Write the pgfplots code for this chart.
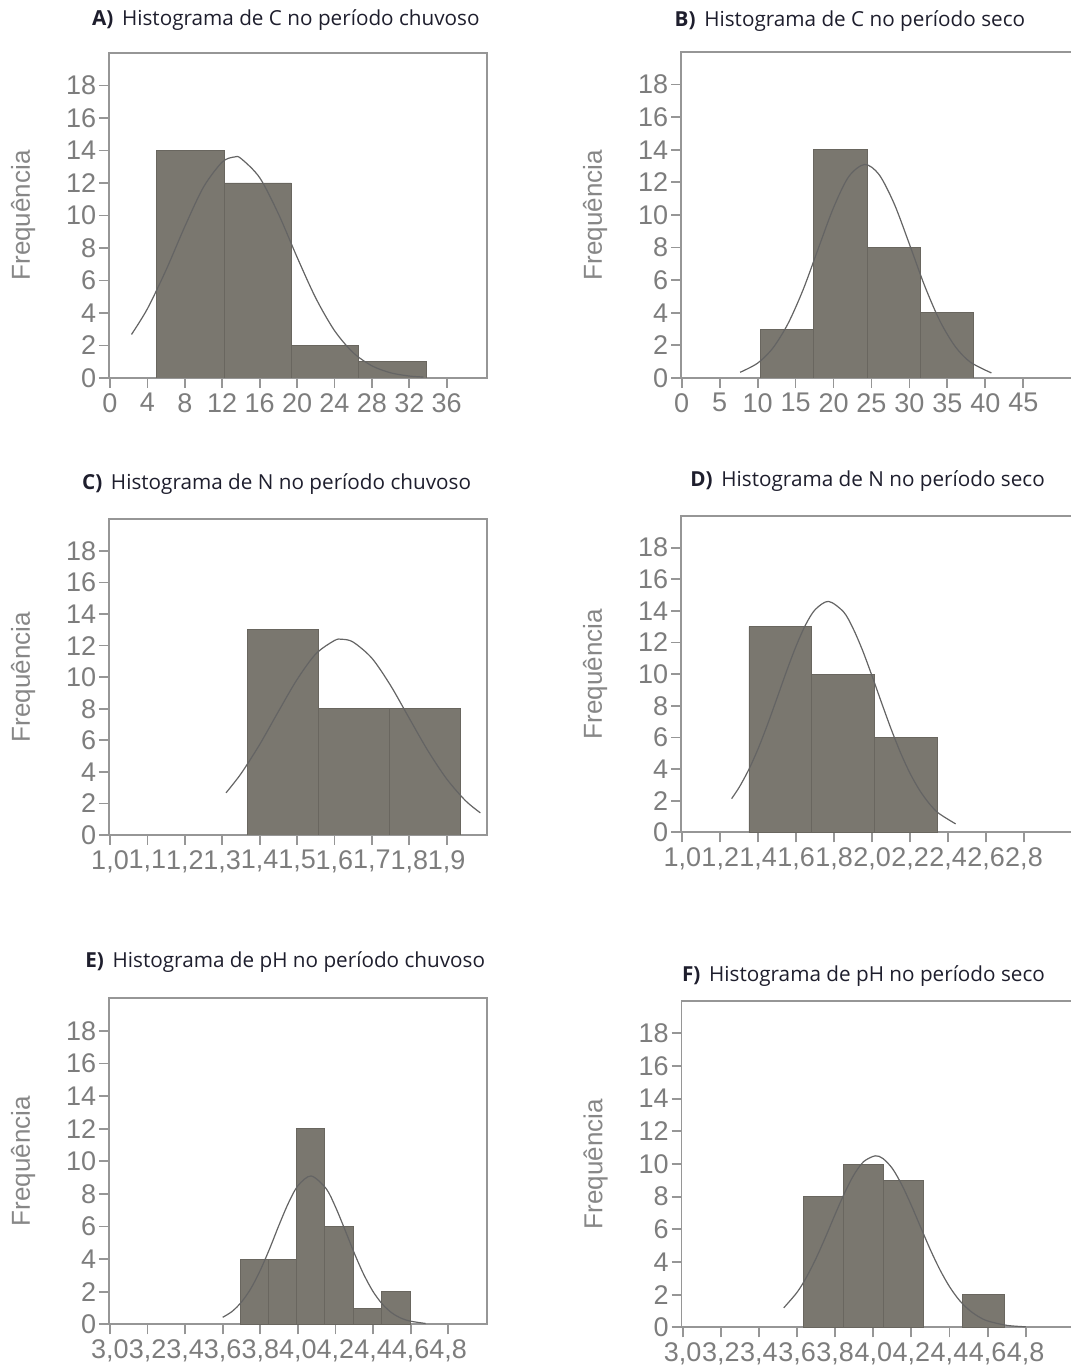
\documentclass[border=0pt]{standalone}
\usepackage{pgfplots}
\pgfplotsset{compat=1.18}
\usepackage{fontspec}
\setmainfont{Liberation Sans}
\newfontfamily\titlefont{Open Sans}
\definecolor{barc}{RGB}{122,119,111}
\definecolor{bard}{RGB}{105,102,95}
\definecolor{framec}{RGB}{150,150,150}
\definecolor{tickc}{RGB}{125,125,125}
\definecolor{labc}{RGB}{135,135,135}
\definecolor{curvec}{RGB}{100,100,100}
\definecolor{titc}{RGB}{30,30,45}
\pgfplotsset{
  hist/.style={
    scale only axis, anchor=south west,
    ymin=0, ymax=20, ytick={0,2,4,6,8,10,12,14,16,18},
    axis line style={framec, line width=0.9pt},
    every tick/.style={framec, line width=0.9pt},
    major tick length=5pt,
    tick align=outside,
    xtick pos=left, ytick pos=left,
    tick label style={font=\fontsize{13.5pt}{13.5pt}\selectfont, text=tickc},
    yticklabel style={inner sep=1.2pt},
    xticklabel style={inner sep=2.5pt},
    /pgf/number format/assume math mode=true,
    ylabel={Frequência},
    every axis y label/.style={at={(axis description cs:0,0.5)}, xshift=-43pt, rotate=90, anchor=center, font=\fontsize{13pt}{13pt}\selectfont, text=labc},
    clip=true,
  },
  barstyle/.style={ybar interval, fill=barc, draw=bard, line width=0.4pt},
  curvestyle/.style={smooth, curvec, line width=0.6pt, mark=none},
}
\newcommand{\ttl}[2]{{\titlefont\fontsize{10.35pt}{12pt}\selectfont\color{titc}\textbf{#1}\hspace{0.42em}#2}}
\begin{document}
\begin{tikzpicture}
\path[use as bounding box] (0,0) rectangle (535.5pt,683pt);
\clip (0,0) rectangle (535.5pt,683pt);

% A
\begin{axis}[hist, at={(54.5pt,494pt)}, width=189pt, height=162.5pt,
  xmin=-0.107, xmax=40.31, xtick={0,4,8,12,16,20,24,28,32,36}]
\addplot[barstyle] coordinates {(5,14) (12.2,12) (19.4,2) (26.6,1) (33.8,0)};
\addplot[curvestyle] coordinates {(2.3,2.68) (4,4.26) (6,6.65) (8,9.32) (10,11.75) (12,13.29) (13.3,13.6) (14,13.51) (16,12.33) (18,10.11) (20,7.44) (22,4.92) (24,2.92) (26,1.56) (28,0.75) (30,0.32) (32,0.12) (33.5,0.06)};
\end{axis}
\node[anchor=base west, inner sep=0] at (45.85pt,670.15pt) {\ttl{A)}{Histograma de C no período chuvoso}};

% B
\begin{axis}[hist, at={(340.5pt,494pt)}, width=200pt, height=163pt,
  xmin=-0.09, xmax=52.6, xtick={0,5,10,15,20,25,30,35,40,45}]
\addplot[barstyle] coordinates {(10.4,3) (17.4,14) (24.4,8) (31.4,4) (38.4,0)};
\addplot[curvestyle] coordinates {(7.7,0.35) (10,0.91) (12,1.83) (14,3.33) (16,5.42) (18,7.95) (20,10.45) (22,12.35) (24.1,13.1) (26,12.48) (28,10.68) (30,8.21) (32,5.66) (34,3.51) (36,1.95) (38,0.98) (40.8,0.31)};
\end{axis}
\node[anchor=base west, inner sep=0] at (337.15pt,669.65pt) {\ttl{B)}{Histograma de C no período seco}};

% C
\begin{axis}[hist, at={(54.5pt,265.5pt)}, width=189pt, height=157.85pt,
  xmin=0.9973, xmax=2.0077, xtick={1.0,1.1,1.2,1.3,1.4,1.5,1.6,1.7,1.8,1.9},
  xticklabels={{1,0},{1,1},{1,2},{1,3},{1,4},{1,5},{1,6},{1,7},{1,8},{1,9}}]
\addplot[barstyle] coordinates {(1.367,13) (1.557,8) (1.747,8) (1.937,0)};
\addplot[curvestyle] coordinates {(1.31,2.67) (1.35,3.88) (1.40,5.73) (1.45,7.82) (1.50,9.85) (1.55,11.47) (1.60,12.32) (1.62,12.4) (1.65,12.22) (1.70,11.20) (1.75,9.47) (1.80,7.39) (1.85,5.33) (1.90,3.55) (1.95,2.18) (1.99,1.40)};
\end{axis}
\node[anchor=base west, inner sep=0] at (40.85pt,438.35pt) {\ttl{C)}{Histograma de N no período chuvoso}};

% D
\begin{axis}[hist, at={(340.5pt,266.85pt)}, width=200pt, height=158.15pt,
  xmin=0.9932, xmax=3.1003, xtick={1.0,1.2,1.4,1.6,1.8,2.0,2.2,2.4,2.6,2.8},
  xticklabels={{1,0},{1,2},{1,4},{1,6},{1,8},{2,0},{2,2},{2,4},{2,6},{2,8}}]
\addplot[barstyle] coordinates {(1.351,13) (1.678,10) (2.010,6) (2.343,0)};
\addplot[curvestyle] coordinates {(1.26,2.13) (1.30,2.85) (1.35,3.96) (1.40,5.30) (1.45,6.85) (1.50,8.52) (1.55,10.21) (1.60,11.79) (1.65,13.13) (1.70,14.08) (1.77,14.6) (1.85,13.93) (1.90,12.88) (1.95,11.49) (2.00,9.87) (2.05,8.18) (2.10,6.53) (2.15,5.02) (2.20,3.72) (2.25,2.66) (2.30,1.83) (2.35,1.21) (2.44,0.53)};
\end{axis}
\node[anchor=base west, inner sep=0] at (345pt,439.65pt) {\ttl{D)}{Histograma de N no período seco}};

% E
\begin{axis}[hist, at={(54.5pt,20.85pt)}, width=189pt, height=163pt,
  xmin=2.9947, xmax=5.0064, xtick={3.0,3.2,3.4,3.6,3.8,4.0,4.2,4.4,4.6,4.8},
  xticklabels={{3,0},{3,2},{3,4},{3,6},{3,8},{4,0},{4,2},{4,4},{4,6},{4,8}}]
\addplot[barstyle] coordinates {(3.695,4) (3.845,4) (3.99,12) (4.142,6) (4.294,1) (4.445,2) (4.60,0)};
\addplot[curvestyle] coordinates {(3.60,0.43) (3.65,0.79) (3.70,1.37) (3.75,2.20) (3.80,3.32) (3.85,4.65) (3.90,6.10) (3.95,7.45) (4.00,8.50) (4.07,9.1) (4.15,8.33) (4.20,7.20) (4.25,5.81) (4.30,4.37) (4.35,3.07) (4.40,2.01) (4.45,1.23) (4.50,0.70) (4.55,0.37) (4.60,0.19) (4.68,0.05)};
\end{axis}
\node[anchor=base west, inner sep=0] at (42.5pt,199.35pt) {\ttl{E)}{Histograma de pH no período chuvoso}};

% F
\begin{axis}[hist, at={(340.75pt,19.35pt)}, width=200pt, height=163.3pt,
  xmin=2.9937, xmax=5.0927, xtick={3.0,3.2,3.4,3.6,3.8,4.0,4.2,4.4,4.6,4.8},
  xticklabels={{3,0},{3,2},{3,4},{3,6},{3,8},{4,0},{4,2},{4,4},{4,6},{4,8}}]
\addplot[barstyle] coordinates {(3.633,8) (3.843,10) (4.053,9) (4.263,0)};
\addplot[barstyle] coordinates {(4.469,2) (4.687,0)};
\addplot[curvestyle] coordinates {(3.53,1.19) (3.60,2.14) (3.65,3.08) (3.70,4.23) (3.75,5.54) (3.80,6.92) (3.85,8.24) (3.90,9.37) (3.95,10.15) (4.01,10.5) (4.05,10.34) (4.10,9.73) (4.15,8.72) (4.20,7.46) (4.25,6.09) (4.30,4.74) (4.35,3.52) (4.40,2.49) (4.45,1.68) (4.50,1.09) (4.55,0.67) (4.60,0.39) (4.70,0.12) (4.80,0.03)};
\end{axis}
\node[anchor=base west, inner sep=0] at (340.85pt,192.15pt) {\ttl{F)}{Histograma de pH no período seco}};
\end{tikzpicture}
\end{document}
